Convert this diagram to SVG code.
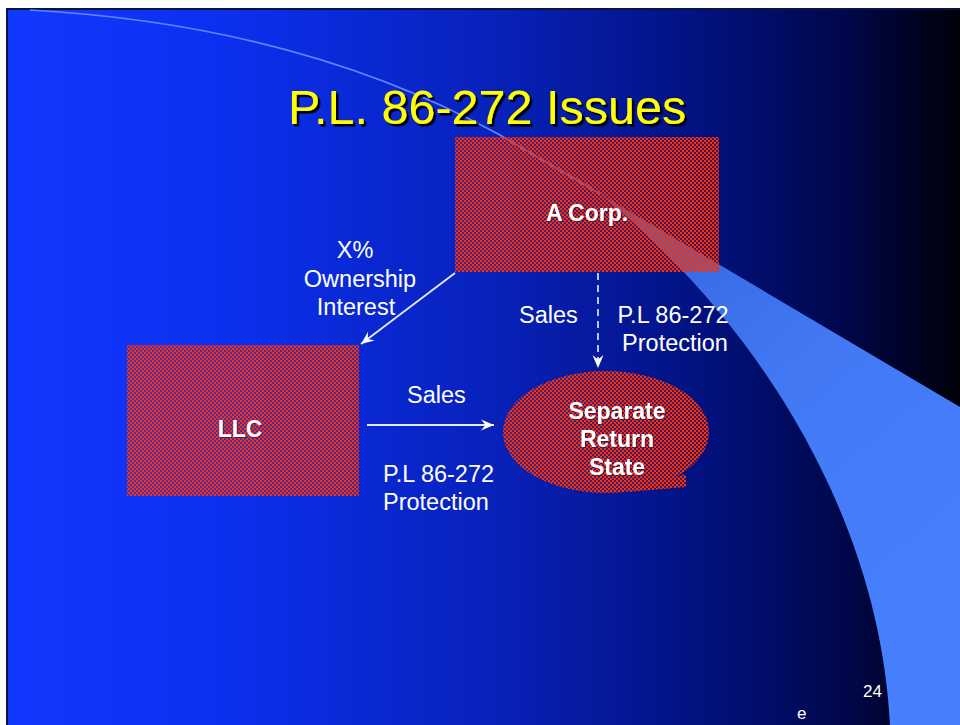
<svg xmlns="http://www.w3.org/2000/svg" width="960" height="725" viewBox="0 0 960 725">
  <defs>
    <linearGradient id="bg" x1="0" y1="0" x2="1" y2="0">
      <stop offset="0" stop-color="#1238ff"/>
      <stop offset="0.22" stop-color="#0c30f0"/>
      <stop offset="0.5" stop-color="#0822bc"/>
      <stop offset="0.72" stop-color="#021282"/>
      <stop offset="0.88" stop-color="#00074a"/>
      <stop offset="1" stop-color="#000008"/>
    </linearGradient>
    <linearGradient id="band" x1="600" y1="190" x2="940" y2="600" gradientUnits="userSpaceOnUse">
      <stop offset="0" stop-color="#3264dc"/>
      <stop offset="0.5" stop-color="#4278f4"/>
      <stop offset="1" stop-color="#4680ff"/>
    </linearGradient>
    <!-- 2px red dither; the off cells only lightly tinted so the background shows through -->
    <pattern id="dither" patternUnits="userSpaceOnUse" x="0" y="0" width="4" height="4">
      <rect x="0" y="0" width="4" height="4" fill="#ff2a00" fill-opacity="0.22"/>
      <rect x="0" y="0" width="2" height="2" fill="#ff3000"/>
      <rect x="2" y="2" width="2" height="2" fill="#ff3000"/>
    </pattern>
    <filter id="titleShadow" x="-5%" y="-20%" width="110%" height="140%">
      <feDropShadow dx="2.5" dy="2.5" stdDeviation="0" flood-color="#000010" flood-opacity="1"/>
    </filter>
    <filter id="nodeShadow" x="-10%" y="-20%" width="120%" height="140%">
      <feDropShadow dx="1" dy="1" stdDeviation="0" flood-color="#300010" flood-opacity="0.55"/>
    </filter>
    <marker id="stealth" viewBox="-14 -7 15 14" refX="0" refY="0" markerWidth="15" markerHeight="14" markerUnits="userSpaceOnUse" orient="auto">
      <path d="M0,0 L-13,-5.5 L-8.5,0 L-13,5.5 Z" fill="#ffffff"/>
    </marker>
    <style>
      .title { font-family: "Liberation Sans", Arial, sans-serif; font-size: 48.5px; fill: #ffff00; filter: url(#titleShadow); }
      .node-text { font-family: "Liberation Sans", Arial, sans-serif; font-size: 23px; font-weight: bold; fill: #ffffff; text-anchor: middle; filter: url(#nodeShadow); }
      .label { font-family: "Liberation Sans", Arial, sans-serif; font-size: 23.5px; fill: #ffffff; }
      .mid { text-anchor: middle; }
      .small { font-family: "Liberation Sans", Arial, sans-serif; font-size: 17px; fill: #ffffff; }
      .dither { fill: url(#dither); }
      .conn { stroke: #e4eaff; stroke-width: 1.8; fill: none; marker-end: url(#stealth); }
      .dashed { stroke: #b4c6ff; stroke-width: 2; stroke-dasharray: 7 5; }
    </style>
  </defs>

  <!-- page and slide background -->
  <rect x="0" y="0" width="960" height="725" fill="#ffffff"/>
  <rect x="6" y="8" width="954" height="717" fill="#0a1440"/>
  <rect x="8" y="10" width="952" height="715" fill="url(#bg)"/>

  <!-- sweeping arc decoration -->
  <g id="swoosh">
    <path d="M30,10 Q300,25 500,135 L600,194" fill="none" stroke="#5f86ff" stroke-width="1.6"/>
    <path d="M590,186 L500,135 L960,407 L960,725 L890,725 C880,520 760,320 590,186 Z" fill="url(#band)"/>
  </g>

  <!-- title -->
  <g id="title">
    <text class="title" x="288" y="124">P.L. 86-272 Issues</text>
  </g>

  <!-- nodes -->
  <g id="node-acorp">
    <rect class="dither" x="455" y="137" width="264" height="135"/>
    <text class="node-text" x="587" y="221">A Corp.</text>
  </g>

  <g id="node-llc">
    <rect class="dither" x="127" y="345" width="232" height="151"/>
    <text class="node-text" x="240" y="437">LLC</text>
  </g>

  <g id="node-state">
    <ellipse class="dither" cx="606" cy="432" rx="103" ry="61"/>
    <path class="dither" d="M636,488 L686,474 L686,487 L628,492 Z"/>
    <text class="node-text" x="617" y="419">Separate</text>
    <text class="node-text" x="617" y="447">Return</text>
    <text class="node-text" x="617" y="475">State</text>
  </g>

  <!-- connectors -->
  <g id="connectors">
    <line class="conn" x1="455" y1="273" x2="361" y2="344"/>
    <line class="conn dashed" x1="598" y1="273" x2="598" y2="368"/>
    <line class="conn" x1="367" y1="425" x2="494" y2="425"/>
  </g>

  <!-- connector labels -->
  <g id="labels">
    <text class="label mid" x="355" y="258">X%</text>
    <text class="label mid" x="360" y="287">Ownership</text>
    <text class="label mid" x="356" y="315">Interest</text>
    <text class="label" x="519" y="323">Sales</text>
    <text class="label mid" x="673" y="323">P.L 86-272</text>
    <text class="label mid" x="675" y="351">Protection</text>
    <text class="label" x="407" y="403">Sales</text>
    <text class="label" x="383" y="482">P.L 86-272</text>
    <text class="label" x="383" y="510">Protection</text>
  </g>

  <!-- footer -->
  <g id="footer">
    <text class="small" x="863" y="697">24</text>
    <text class="small" x="797" y="719">e</text>
  </g>
</svg>
